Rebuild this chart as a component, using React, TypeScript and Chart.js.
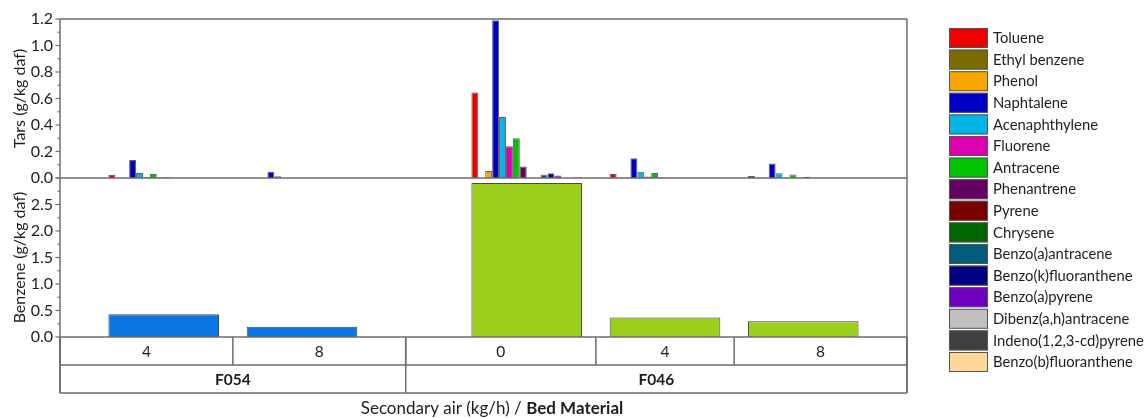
import React, { useEffect, useRef } from 'react';
import { Chart, registerables } from 'chart.js';

Chart.register(...registerables);

const W = 1146;
const H = 418;
const FONT = 'Lato, "Open Sans", sans-serif';

// Two-level x axis: secondary air flow (kg/h) within each bed material
const secondaryAir = ['4', '8', '0', '4', '8'];
const bedMaterial = ['F054', 'F054', 'F046', 'F046', 'F046'];
// Where each run sits on the x scale (the two bed materials are set apart)
const runPositions = [1, 2, 3.625, 4.625, 5.625];
// Cell edges of the category table under the plot, in x-scale units
const airCellEdges = [0.25, 1.5, 2.75, 4.125, 5.125, 6.375];
const bedCellEdges = [0.25, 2.75, 6.375];
const bedLabels = ['F054', 'F046'];

// Tar species (g/kg daf), one value per run
const toluene = [0.023, 0.002, 0.646, 0.03, 0.015];
const ethylBenzene = [0, 0, 0, 0, 0.002];
const phenol = [0, 0, 0.053, 0.003, 0];
const naphtalene = [0.135, 0.048, 1.19, 0.15, 0.109];
const acenaphthylene = [0.038, 0.014, 0.46, 0.048, 0.035];
const fluorene = [0.008, 0.002, 0.24, 0.012, 0.003];
const antracene = [0.031, 0, 0.3, 0.037, 0.027];
const phenantrene = [0.003, 0, 0.086, 0.003, 0.002];
const pyrene = [0.006, 0, 0.002, 0, 0.01];
const chrysene = [0, 0, 0, 0, 0];
const benzoAAntracene = [0.002, 0, 0.025, 0.002, 0.002];
const benzoKFluoranthene = [0.002, 0, 0.035, 0.002, 0.002];
const benzoAPyrene = [0, 0, 0.018, 0, 0];
const dibenzAHAntracene = [0, 0, 0, 0, 0];
const indenoPyrene = [0, 0, 0, 0, 0];
const benzoBFluoranthene = [0, 0, 0.008, 0, 0];

// Benzene (g/kg daf), one value per run
const benzene = [0.43, 0.195, 2.905, 0.366, 0.296];

const tarSeries = [
  { label: 'Toluene', values: toluene, color: '#F00000' },
  { label: 'Ethyl benzene', values: ethylBenzene, color: '#7A6C00' },
  { label: 'Phenol', values: phenol, color: '#F7A600' },
  { label: 'Naphtalene', values: naphtalene, color: '#0000C4' },
  { label: 'Acenaphthylene', values: acenaphthylene, color: '#00B6E4' },
  { label: 'Fluorene', values: fluorene, color: '#DD00B0' },
  { label: 'Antracene', values: antracene, color: '#00C400' },
  { label: 'Phenantrene', values: phenantrene, color: '#640064' },
  { label: 'Pyrene', values: pyrene, color: '#780000' },
  { label: 'Chrysene', values: chrysene, color: '#006400' },
  { label: 'Benzo(a)antracene', values: benzoAAntracene, color: '#005C7A' },
  { label: 'Benzo(k)fluoranthene', values: benzoKFluoranthene, color: '#000082' },
  { label: 'Benzo(a)pyrene', values: benzoAPyrene, color: '#7000C0' },
  { label: 'Dibenz(a,h)antracene', values: dibenzAHAntracene, color: '#C0C0C0' },
  { label: 'Indeno(1,2,3-cd)pyrene', values: indenoPyrene, color: '#404040' },
  { label: 'Benzo(b)fluoranthene', values: benzoBFluoranthene, color: '#FFD797' },
];

const bedColors: Record<string, string> = { F054: '#0A76E2', F046: '#9BCF1C' };

const AXIS_COLOR = '#6d6d6d';
const TEXT_COLOR = '#1e1e1e';

// Frame, minor ticks and the two-row category table
const framePlugin = {
  id: 'frameAndTable',
  afterDraw(chart: any) {
    const { ctx, chartArea, scales } = chart;
    const xs = scales.x;
    const yT = scales.yTar;
    const yB = scales.yBen;
    const left = chartArea.left;
    const right = chartArea.right;
    const top = chartArea.top;
    const bottom = chartArea.bottom;
    const mid = yT.bottom;
    const rowH = 28;

    ctx.save();
    ctx.strokeStyle = AXIS_COLOR;
    ctx.lineWidth = 1.5;
    const seg = (x1: number, y1: number, x2: number, y2: number) => {
      ctx.beginPath();
      ctx.moveTo(x1, y1);
      ctx.lineTo(x2, y2);
      ctx.stroke();
    };

    // panel frames
    seg(left, top, right, top);
    seg(left, mid, right, mid);
    seg(left, bottom, right, bottom);
    seg(left, top, left, bottom + 2 * rowH);
    seg(right, top, right, bottom + 2 * rowH);

    // y ticks (major at labels, minor between)
    ctx.lineWidth = 1.2;
    for (let i = 0; i <= 12; i++) {
      const y = yT.getPixelForValue(i * 0.1);
      seg(left - (i % 2 === 0 ? 4.5 : 2.5), y, left, y);
    }
    for (let i = 0; i <= 12; i++) {
      const y = yB.getPixelForValue(i * 0.25);
      seg(left - (i % 2 === 0 ? 4.5 : 2.5), y, left, y);
    }

    // category table
    ctx.lineWidth = 1.5;
    seg(left, bottom + rowH, right, bottom + rowH);
    seg(left, bottom + 2 * rowH, right, bottom + 2 * rowH);
    airCellEdges.forEach((e) => {
      const px = xs.getPixelForValue(e);
      seg(px, bottom, px, bottom + rowH);
    });
    bedCellEdges.forEach((e) => {
      const px = xs.getPixelForValue(e);
      seg(px, bottom, px, bottom + 2 * rowH);
    });

    ctx.fillStyle = TEXT_COLOR;
    ctx.textAlign = 'center';
    ctx.textBaseline = 'middle';
    ctx.font = `15.5px ${FONT}`;
    secondaryAir.forEach((lab, i) => {
      const cx = (xs.getPixelForValue(airCellEdges[i]) + xs.getPixelForValue(airCellEdges[i + 1])) / 2;
      ctx.fillText(lab, cx, bottom + rowH / 2 + 1);
    });
    ctx.font = `bold 15.5px ${FONT}`;
    bedLabels.forEach((lab, i) => {
      const cx = (xs.getPixelForValue(bedCellEdges[i]) + xs.getPixelForValue(bedCellEdges[i + 1])) / 2;
      ctx.fillText(lab, cx, bottom + rowH * 1.5 + 1);
    });

    // x axis title with a bold second half
    const partA = 'Secondary air (kg/h) / ';
    const partB = 'Bed Material';
    ctx.font = `17px ${FONT}`;
    const wA = ctx.measureText(partA).width;
    ctx.font = `bold 17px ${FONT}`;
    const wB = ctx.measureText(partB).width;
    const startX = 492 - (wA + wB) / 2;
    const ty = bottom + 2 * rowH + 16;
    ctx.textAlign = 'left';
    ctx.font = `17px ${FONT}`;
    ctx.fillText(partA, startX, ty);
    ctx.font = `bold 17px ${FONT}`;
    ctx.fillText(partB, startX + wA, ty);
    ctx.restore();
  },
};

// Legend column to the right of the plot
const legendPlugin = {
  id: 'sideLegend',
  afterDraw(chart: any) {
    const { ctx } = chart;
    const boxX = 949;
    const firstY = 28;
    const step = 21.6;
    ctx.save();
    ctx.font = `14.8px ${FONT}`;
    ctx.textBaseline = 'middle';
    ctx.textAlign = 'left';
    chart.data.datasets
      .filter((d: any) => d.yAxisID === 'yTar')
      .forEach((d: any, i: number) => {
        const y = firstY + i * step;
        ctx.fillStyle = d.backgroundColor;
        ctx.fillRect(boxX, y, 39, 20);
        ctx.strokeStyle = '#555';
        ctx.lineWidth = 1;
        ctx.strokeRect(boxX + 0.5, y + 0.5, 38, 19);
        ctx.fillStyle = TEXT_COLOR;
        ctx.fillText(d.label, boxX + 44, y + 10.5);
      });
    ctx.restore();
  },
};

export default function App() {
  const canvasRef = useRef<HTMLCanvasElement>(null);

  useEffect(() => {
    const canvas = canvasRef.current;
    if (!canvas) return;

    const tarDatasets = tarSeries.map((s) => ({
      type: 'bar' as const,
      label: s.label,
      data: runPositions.map((x, i) => ({ x, y: s.values[i] })),
      yAxisID: 'yTar',
      backgroundColor: s.color,
      borderColor: 'rgba(70,70,70,0.85)',
      borderWidth: 1,
      grouped: true,
      categoryPercentage: 0.8,
      barPercentage: 1,
    }));

    const benzeneDataset = {
      type: 'bar' as const,
      label: 'Benzene',
      data: runPositions.map((x, i) => ({ x, y: benzene[i] })),
      yAxisID: 'yBen',
      backgroundColor: bedMaterial.map((b) => bedColors[b]),
      borderColor: '#4a4a4a',
      borderWidth: 1,
      grouped: false,
      categoryPercentage: 0.8,
      barPercentage: 1,
    };

    const tickFont = { family: FONT, size: 16 };
    const titleFont = { family: FONT, size: 16 };

    const chart = new Chart(canvas, {
      type: 'bar',
      data: { datasets: [benzeneDataset, ...tarDatasets] as any },
      options: {
        responsive: false,
        animation: false,
        layout: { padding: { top: 19, bottom: 81, left: 0, right: W - 907 } },
        plugins: {
          legend: { display: false },
          tooltip: { enabled: false },
        },
        scales: {
          x: {
            type: 'linear',
            offset: false,
            min: airCellEdges[0],
            max: airCellEdges[airCellEdges.length - 1],
            display: false,
            grid: { offset: false },
            afterBuildTicks: (s: any) => {
              s.ticks = runPositions.map((v) => ({ value: v }));
            },
          },
          yBen: {
            type: 'linear',
            position: 'left',
            stack: 'panels',
            stackWeight: 1,
            min: 0,
            max: 3,
            grid: { display: false, drawTicks: false },
            border: { display: false },
            ticks: {
              stepSize: 0.5,
              padding: 7,
              autoSkip: false,
              font: tickFont,
              color: TEXT_COLOR,
              callback: (v: any) => (Number(v) >= 2.99 ? '' : Number(v).toFixed(1)),
            },
            title: {
              display: true,
              text: 'Benzene (g/kg daf)',
              font: titleFont,
              color: TEXT_COLOR,
              padding: { top: 10, bottom: 0 },
            },
            afterFit: (s: any) => {
              s.width = 60;
            },
          },
          yTar: {
            type: 'linear',
            position: 'left',
            stack: 'panels',
            stackWeight: 1,
            min: 0,
            max: 1.2,
            grid: { display: false, drawTicks: false },
            border: { display: false },
            ticks: {
              stepSize: 0.2,
              padding: 7,
              autoSkip: false,
              font: tickFont,
              color: TEXT_COLOR,
              callback: (v: any) => Number(v).toFixed(1),
            },
            title: {
              display: true,
              text: 'Tars (g/kg daf)',
              font: titleFont,
              color: TEXT_COLOR,
              padding: { top: 10, bottom: 0 },
            },
            afterFit: (s: any) => {
              s.width = 60;
            },
          },
        } as any,
      },
      plugins: [framePlugin, legendPlugin],
    });

    return () => chart.destroy();
  }, []);

  return (
    <div style={{ position: 'absolute', left: 0, top: 0, width: W, height: H, background: '#fff' }}>
      <canvas ref={canvasRef} width={W} height={H} style={{ display: 'block' }} />
    </div>
  );
}
